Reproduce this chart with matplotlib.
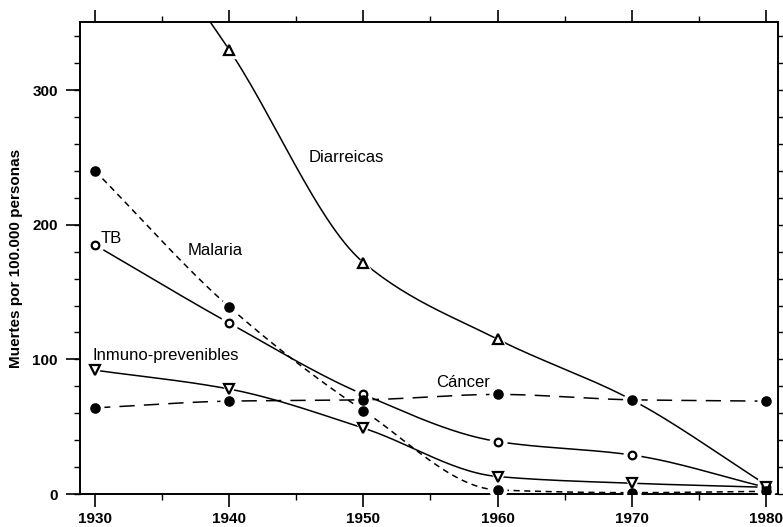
import numpy as np
import matplotlib
matplotlib.use('Agg')
from matplotlib import pyplot as plt
from matplotlib.ticker import MultipleLocator

plt.rcParams['font.family'] = ['Liberation Sans', 'DejaVu Sans']

years = [1930, 1940, 1950, 1960, 1970, 1980]

# muertes por 100.000 personas
diarreicas = [470, 330, 172, 115, 70, 7]
malaria = [240, 139, 62, 3, 1, 2]
tb = [185, 127, 74, 39, 29, 5]
inmuno = [92, 78, 49, 13, 8, 5]
cancer = [64, 69, 70, 74, 70, 69]


def smooth(x, y, n=30):
    # curva monotona (pchip) solo para dibujar la linea suave
    x = np.asarray(x, float)
    y = np.asarray(y, float)
    h = np.diff(x)
    d = np.diff(y) / h
    m = np.zeros_like(y)
    for k in range(1, len(x) - 1):
        if d[k - 1] * d[k] > 0:
            w1 = 2 * h[k] + h[k - 1]
            w2 = h[k] + 2 * h[k - 1]
            m[k] = (w1 + w2) / (w1 / d[k - 1] + w2 / d[k])
    m[0] = d[0]
    m[-1] = d[-1]
    xs, ys = [], []
    t = np.linspace(0, 1, n)
    for i in range(len(x) - 1):
        h00 = 2 * t**3 - 3 * t**2 + 1
        h10 = t**3 - 2 * t**2 + t
        h01 = -2 * t**3 + 3 * t**2
        h11 = t**3 - t**2
        xs.append(x[i] + t * h[i])
        ys.append(h00 * y[i] + h10 * h[i] * m[i] + h01 * y[i + 1] + h11 * h[i] * m[i + 1])
    return np.concatenate(xs), np.concatenate(ys)


fig = plt.figure(figsize=(7.83, 5.27), dpi=100)
ax = fig.add_axes([0.1022, 0.0626, 0.8914, 0.8957])

series = [
    (diarreicas, (0, ()), '^', 'none', slice(1, 4)),
    (tb, (0, ()), 'o', 'none', slice(0, 6)),
    (inmuno, (0, ()), 'v', 'none', slice(0, 6)),
    (malaria, (0, (4, 3)), 'o', 'k', slice(0, 6)),
    (cancer, (0, (10, 6)), 'o', 'k', slice(0, 6)),
]

for vals, ls, mk, fc, sl in series:
    sx, sy = smooth(years, vals)
    ax.plot(sx, sy, color='k', lw=1.1, linestyle=ls, zorder=2)
    xm = years[sl]
    ym = vals[sl]
    # halo blanco para cortar la linea cerca del marcador
    ax.plot(xm, ym, linestyle='none', marker=mk, ms=12, mfc='white', mec='white', zorder=3)

for vals, ls, mk, fc, sl in series:
    xm = years[sl]
    ym = vals[sl]
    ms = 6 if mk == 'o' else 7
    if fc == 'none':
        ms = 5.5 if mk == 'o' else 7
    ax.plot(xm, ym, linestyle='none', marker=mk, ms=ms, mfc=fc if fc != 'none' else 'white',
            mec='k', mew=1.6, zorder=4)

ax.set_xlim(1928.88, 1980.9)
ax.set_ylim(0, 350.7)

ax.set_xticks(years)
ax.xaxis.set_minor_locator(MultipleLocator(5))
ax.set_yticks([0, 100, 200, 300])
ax.yaxis.set_minor_locator(MultipleLocator(20))
ax.yaxis.remove_overlapping_locs = False

ax.tick_params(axis='both', which='major', direction='out', length=10, width=1.2,
               labelsize=11, top=True)
ax.tick_params(axis='y', which='major', right=False, pad=6)
ax.tick_params(axis='x', which='major', pad=4)
ax.tick_params(axis='x', which='major', length=9)
ax.tick_params(axis='both', which='minor', direction='out', length=4, width=1.0,
               top=True, right=True)
for lab in ax.get_xticklabels() + ax.get_yticklabels():
    lab.set_fontweight('bold')

for sp in ax.spines.values():
    sp.set_linewidth(1.4)

ax.set_ylabel('Muertes por 100.000 personas', fontsize=11, fontweight='bold', labelpad=7)

txt = dict(fontsize=12, color='k', va='center')
ax.text(1945.9, 250, 'Diarreicas', ha='left', **txt)
ax.text(1936.9, 181, 'Malaria', ha='left', **txt)
ax.text(1930.45, 190, 'TB', ha='left', **txt)
ax.text(1929.8, 103, 'Inmuno-prevenibles', ha='left', **txt)
ax.text(1955.4, 82.5, 'Cáncer', ha='left', **txt)

fig.savefig('out.png', dpi=100)
